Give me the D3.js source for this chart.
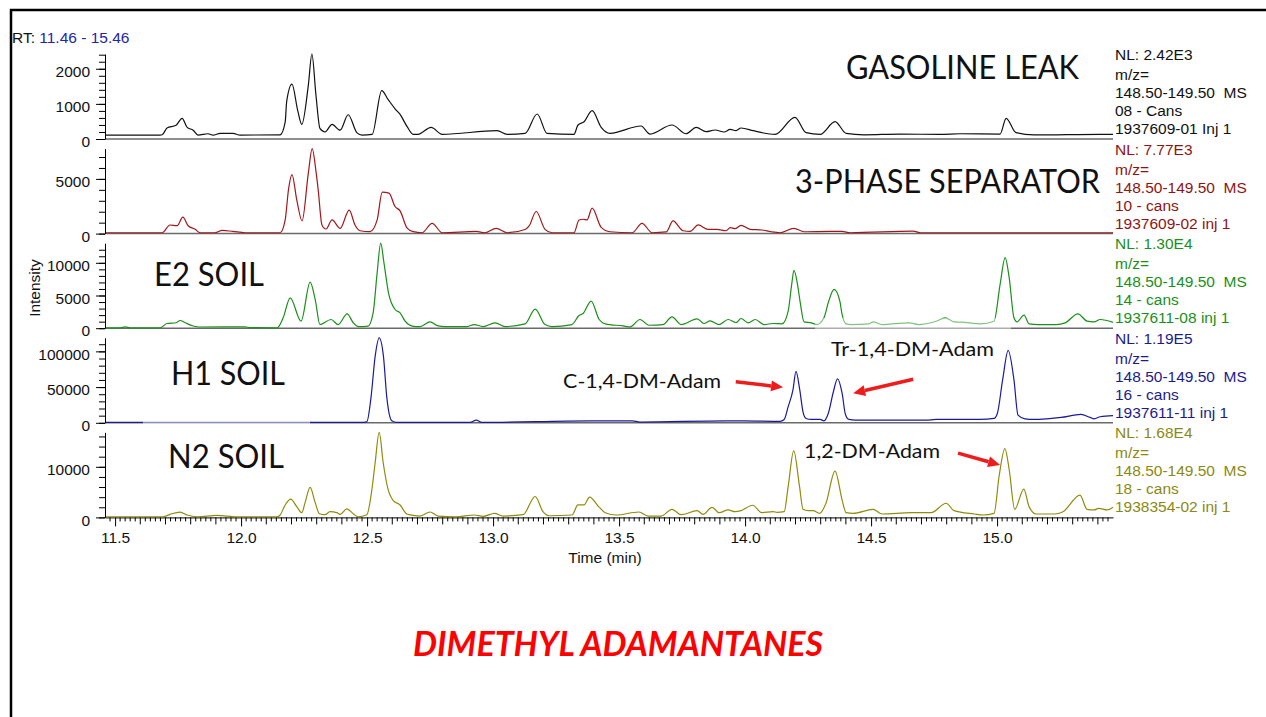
<!DOCTYPE html>
<html>
<head>
<meta charset="utf-8">
<script src="https://cdn.jsdelivr.net/npm/d3@7"></script>
<style>
  html, body { margin: 0; padding: 0; background: #fff; }
  svg { display: block; }
</style>
</head>
<body>
<svg id="chart" width="1266" height="717"></svg>
<script>
// retention time (min), intensity
const gasolineTrace = [[11.464,110],[11.679,110],[11.687,120],[11.706,310],[11.742,390],[11.766,590],[11.786,330],[11.810,250],[11.829,110],[11.869,150],[11.889,110],[11.917,160],[11.968,160],[11.996,110],[12.155,120],[12.175,480],[12.181,1070],[12.202,1560],[12.225,800],[12.241,417],[12.267,1540],[12.281,2420],[12.297,1260],[12.313,300],[12.333,200],[12.361,417],[12.393,250],[12.425,690],[12.460,175],[12.480,110],[12.520,130],[12.558,1380],[12.583,1130],[12.611,860],[12.631,700],[12.659,350],[12.683,133],[12.702,133],[12.754,332],[12.798,133],[13.016,237],[13.056,133],[13.127,160],[13.175,712],[13.214,161],[13.321,133],[13.337,399],[13.361,493],[13.393,807],[13.429,332],[13.464,161],[13.587,370],[13.623,140],[13.710,399],[13.766,150],[13.806,332],[13.845,209],[13.881,256],[13.917,199],[13.941,275],[13.964,237],[13.984,313],[14.032,237],[14.067,180],[14.119,133],[14.198,617],[14.242,180],[14.298,133],[14.357,493],[14.401,160],[14.472,120],[14.615,140],[14.774,130],[14.853,150],[15.012,140],[15.036,588],[15.075,180],[15.147,115],[15.409,133],[15.460,133]]

const separatorTrace = [[11.464,80],[11.687,80],[11.718,785],[11.746,720],[11.769,1500],[11.790,720],[11.818,390],[11.837,80],[11.897,80],[11.925,300],[11.968,200],[12.016,80],[12.155,80],[12.175,1250],[12.188,4000],[12.202,5400],[12.221,3080],[12.242,1160],[12.267,5550],[12.282,7770],[12.298,5550],[12.306,4000],[12.321,790],[12.337,420],[12.361,1250],[12.393,480],[12.429,2150],[12.452,790],[12.472,260],[12.512,180],[12.540,1250],[12.560,3800],[12.587,3700],[12.611,2480],[12.631,2080],[12.659,500],[12.683,180],[12.718,80],[12.758,940],[12.798,80],[12.933,200],[12.968,80],[13.012,480],[13.056,80],[13.127,380],[13.143,700],[13.171,2020],[13.206,390],[13.234,80],[13.321,80],[13.341,1240],[13.357,1310],[13.373,1250],[13.393,2330],[13.429,570],[13.464,170],[13.552,80],[13.591,940],[13.631,80],[13.687,150],[13.714,1160],[13.754,260],[13.782,200],[13.814,790],[13.853,390],[13.889,390],[13.925,260],[13.941,540],[13.960,450],[13.984,760],[14.020,390],[14.067,330],[14.103,170],[14.139,80],[14.194,480],[14.234,170],[14.337,200],[14.385,200],[14.417,80],[14.667,230],[14.695,80],[15.460,80]]

const e2Trace = [[11.464,60],[11.520,60],[11.540,200],[11.560,60],[11.679,60],[11.706,720],[11.742,830],[11.758,1180],[11.778,830],[11.810,330],[11.837,180],[12.016,200],[12.036,80],[12.143,60],[12.167,1600],[12.195,4650],[12.238,1070],[12.274,7060],[12.294,4400],[12.313,560],[12.357,1330],[12.385,560],[12.421,2200],[12.445,830],[12.464,250],[12.504,330],[12.524,2350],[12.540,8490],[12.554,13000],[12.567,10000],[12.585,5400],[12.611,2860],[12.631,2350],[12.651,1070],[12.679,330],[12.710,250],[12.750,970],[12.782,360],[12.810,250],[12.897,250],[12.925,560],[12.960,250],[13.008,820],[13.048,250],[13.127,650],[13.167,2920],[13.206,560],[13.234,250],[13.313,560],[13.341,1950],[13.357,2250],[13.389,4150],[13.421,1330],[13.445,670],[13.516,350],[13.544,200],[13.583,1330],[13.619,450],[13.675,560],[13.710,1740],[13.746,560],[13.810,1430],[13.837,720],[13.861,1130],[13.897,560],[13.933,1330],[13.964,870],[13.984,1480],[14.012,820],[14.040,1330],[14.075,560],[14.111,720],[14.147,670],[14.171,2610],[14.185,6700],[14.194,8860],[14.208,6700],[14.218,4150],[14.234,970],[14.262,820],[14.286,560],[14.313,1590],[14.332,4150],[14.353,5940],[14.376,4150],[14.385,2100],[14.401,670],[14.421,560],[14.492,670],[14.508,970],[14.544,560],[14.651,820],[14.687,560],[14.758,1070],[14.794,1590],[14.829,970],[14.861,920],[14.897,770],[14.933,670],[14.988,1070],[15.012,6700],[15.032,10800],[15.048,7730],[15.067,1590],[15.079,970],[15.107,2000],[15.127,670],[15.163,560],[15.234,560],[15.270,820],[15.321,2200],[15.357,1075],[15.385,970],[15.409,1330],[15.460,900]]

const h1Trace = [[11.464,500],[12.472,500],[12.499,1400],[12.516,36700],[12.532,93000],[12.548,119000],[12.565,93000],[12.578,36700],[12.598,2800],[12.618,500],[12.909,500],[12.933,3760],[12.956,500],[13.385,2800],[13.552,2800],[13.583,1000],[13.925,2800],[13.996,2800],[14.139,2000],[14.155,4700],[14.171,22560],[14.190,46000],[14.202,72000],[14.217,46000],[14.230,15000],[14.242,6100],[14.262,4700],[14.298,4700],[14.313,2800],[14.330,13000],[14.349,41400],[14.367,61600],[14.385,41400],[14.398,12000],[14.412,4700],[14.437,3760],[14.718,3760],[14.758,4700],[14.933,4700],[14.988,6100],[15.001,13000],[15.022,60000],[15.044,101500],[15.067,60000],[15.083,10800],[15.111,5600],[15.147,4700],[15.198,5600],[15.254,7500],[15.333,11750],[15.369,7500],[15.385,5600],[15.409,8460],[15.460,10000]]

const n2Trace = [[11.464,130],[11.691,130],[11.718,600],[11.758,1060],[11.786,470],[11.825,130],[11.905,400],[11.944,270],[11.976,130],[12.143,130],[12.155,470],[12.175,2460],[12.197,3600],[12.221,2130],[12.241,930],[12.254,2930],[12.274,5930],[12.294,2930],[12.311,730],[12.333,530],[12.353,1130],[12.380,930],[12.393,600],[12.420,1670],[12.445,730],[12.464,130],[12.499,530],[12.519,5460],[12.532,10800],[12.548,16800],[12.564,10800],[12.582,5800],[12.604,3330],[12.631,2460],[12.658,660],[12.684,400],[12.710,270],[12.750,1070],[12.782,270],[12.853,130],[12.925,470],[12.960,200],[13.006,800],[13.040,270],[13.119,530],[13.167,4130],[13.198,1130],[13.222,330],[13.313,470],[13.337,2470],[13.361,2470],[13.383,4000],[13.419,2130],[13.445,930],[13.488,470],[13.579,1070],[13.615,270],[13.667,270],[13.710,1600],[13.746,530],[13.810,1330],[13.833,600],[13.869,2000],[13.897,930],[13.933,1470],[13.960,1130],[13.984,1330],[14.030,2400],[14.066,930],[14.111,1130],[14.127,1000],[14.155,1130],[14.171,6130],[14.193,13140],[14.216,6130],[14.230,1600],[14.250,1330],[14.270,1330],[14.296,800],[14.321,2800],[14.357,9140],[14.385,3470],[14.401,930],[14.429,800],[14.508,1600],[14.544,670],[14.659,930],[14.738,930],[14.798,2800],[14.829,1330],[14.909,670],[14.944,470],[14.988,800],[15.008,8130],[15.031,13600],[15.048,9470],[15.070,1600],[15.106,5600],[15.127,2130],[15.155,670],[15.226,670],[15.262,1130],[15.329,4400],[15.357,1600],[15.385,1470],[15.403,1800],[15.437,1470],[15.460,2000]]

const traces = [gasolineTrace, separatorTrace, e2Trace, h1Trace, n2Trace]
const panelTitles = ['GASOLINE LEAK', '3-PHASE SEPARATOR', 'E2 SOIL', 'H1 SOIL', 'N2 SOIL']
const normLevels = [2420, 7770, 13000, 119000, 16800]
const nlLabels = ['NL: 2.42E3', 'NL: 7.77E3', 'NL: 1.30E4', 'NL: 1.19E5', 'NL: 1.68E4']
const massLabel = ['m/z=', '148.50-149.50  MS']
const scanLabels = ['08 - Cans', '10 - cans', '14 - cans', '16 - cans', '18 - cans']
const sampleLabels = ['1937609-01 Inj 1', '1937609-02 inj 1', '1937611-08 inj 1', '1937611-11 inj 1', '1938354-02 inj 1']
const majorTicks = [[0, 1000, 2000], [0, 5000], [0, 5000, 10000], [0, 50000, 100000], [0, 10000]]
const minorSteps = [200, 1000, 1000, 10000, 2000]
const xTickLabels = [11.5, 12.0, 12.5, 13.0, 13.5, 14.0, 14.5, 15.0]
const rtRange = [11.46, 15.46]

// arrows point at peaks, given in (time, intensity) of their panel
const annotations = [
  { label: 'C-1,4-DM-Adam', panel: 3, textT: 13.905, textV: 48700, anchor: 'end', len: 158, tailT: 13.963, tailV: 57500, tipT: 14.151, tipV: 49700 },
  { label: 'Tr-1,4-DM-Adam', panel: 3, textT: 14.341, textV: 93500, anchor: 'start', len: 163, tailT: 14.667, tailV: 60900, tipT: 14.429, tipV: 41300 },
  { label: '1,2-DM-Adam', panel: 4, textT: 14.234, textV: 11740, anchor: 'start', len: 136, tailT: 14.845, tailV: 12700, tipT: 15.012, tipV: 10350 }
]

const traceColors = ['#111111', '#a0181c', '#1a8f1a', '#1b1b98', '#8f8c0c']
const labelColors = ['#111111', '#8e1414', '#1a8f1a', '#1b1b8c', '#8a8a12']
const titleLayout = [
  { x: 846, y: 79, len: 233 },
  { x: 795, y: 193, len: 305 },
  { x: 154, y: 286, len: 110 },
  { x: 171, y: 385, len: 114 },
  { x: 168, y: 468, len: 116 }
]

const SANS = '"Liberation Sans", Arial, sans-serif'
const TITLE_FONT = 'Lato, "Open Sans", sans-serif'
const FS = 15.5
const PANEL_TOP = 54
const PANEL_STEP = 94.6
const PANEL_H = 85

const svg = d3.select('#chart')
svg.append('rect').attr('width', 1266).attr('height', 717).attr('fill', '#fff')

// slide frame
svg.append('path')
  .attr('d', 'M11,717V10H1266')
  .attr('fill', 'none')
  .attr('stroke', '#000')
  .attr('stroke-width', 2.5)

const x = d3.scaleLinear().domain(rtRange).range([105, 1113])

const panels = traces.map((trace, i) => {
  const top = PANEL_TOP + i * PANEL_STEP
  const y = d3.scaleLinear().domain([0, normLevels[i]]).range([top + PANEL_H, top])
  return { trace, top, y, i }
})

for (const p of panels) {
  const g = svg.append('g')
  const bottom = p.top + PANEL_H

  if (p.i < panels.length - 1) {
    g.append('line')
      .attr('x1', 105).attr('x2', 1113)
      .attr('y1', bottom).attr('y2', bottom)
      .attr('stroke', '#6a6a6a')
      .attr('stroke-width', 1.5)
  }

  const minor = d3.range(0, normLevels[p.i], minorSteps[p.i])
  const minorAxis = g.append('g').attr('transform', 'translate(105,0)')
    .call(d3.axisLeft(p.y).tickValues(minor).tickSize(6).tickFormat(''))
  minorAxis.select('.domain').remove()

  const yAxis = g.append('g').attr('transform', 'translate(105,0)')
    .call(d3.axisLeft(p.y).tickValues(majorTicks[p.i]).tickSize(9).tickSizeOuter(0).tickPadding(6).tickFormat(d3.format('d')))
  yAxis.attr('font-family', SANS).attr('font-size', FS)
  yAxis.selectAll('text').attr('dy', '0.5em').attr('fill', '#111')
}

// x axis on the bottom panel
const last = panels[panels.length - 1]
const xBase = last.top + PANEL_H
const xAxis = svg.append('g').attr('transform', `translate(0,${xBase})`)
  .call(d3.axisBottom(x).tickValues(xTickLabels).tickSize(9).tickSizeOuter(0).tickPadding(6).tickFormat(d3.format('.1f')))
xAxis.attr('font-family', SANS).attr('font-size', FS)
xAxis.selectAll('text').attr('fill', '#111')

const minorX = d3.range(574, 773).filter(k => k % 25 !== 0)
svg.append('g').selectAll('line').data(minorX).enter().append('line')
  .attr('x1', k => x(k / 50)).attr('x2', k => x(k / 50))
  .attr('y1', xBase)
  .attr('y2', k => xBase + (k % 5 === 0 ? 7 : 4))
  .attr('stroke', '#000')

svg.append('text')
  .attr('x', 605)
  .attr('y', xBase + 46)
  .attr('text-anchor', 'middle')
  .attr('font-family', SANS).attr('font-size', FS).attr('fill', '#111')
  .text('Time (min)')

svg.append('text')
  .attr('transform', 'translate(40,288) rotate(-90)')
  .attr('text-anchor', 'middle')
  .attr('font-family', SANS).attr('font-size', FS).attr('fill', '#111')
  .text('Intensity')

const rt = svg.append('text')
  .attr('x', 12).attr('y', 43)
  .attr('font-family', SANS).attr('font-size', FS).attr('fill', '#111')
  .style('white-space', 'pre')
rt.append('tspan').text('RT: ')
rt.append('tspan').attr('fill', '#2424a8').text(`${rtRange[0]} - ${rtRange[1]}`)

// traces
for (const p of panels) {
  const line = d3.line()
    .x(d => x(d[0]))
    .y(d => p.y(d[1]))
    .curve(d3.curveMonotoneX)
  svg.append('path')
    .datum(p.trace)
    .attr('d', line)
    .attr('fill', 'none')
    .attr('stroke', traceColors[p.i])
    .attr('stroke-width', 1.2)
    .attr('stroke-linejoin', 'round')
}

// washed-out patches from pasted text boxes
svg.append('rect').attr('x', 143).attr('y', 410).attr('width', 167).attr('height', 16)
  .attr('fill', '#fff').attr('opacity', 0.5)
svg.append('rect').attr('x', 815).attr('y', 318).attr('width', 196).attr('height', 13)
  .attr('fill', '#fff').attr('opacity', 0.45)

// right-hand scan info
for (const p of panels) {
  const lines = [nlLabels[p.i], massLabel[0], massLabel[1], scanLabels[p.i], sampleLabels[p.i]]
  const offsets = [6, 26, 44, 62, 80]
  svg.append('g').selectAll('text').data(lines).enter().append('text')
    .attr('x', 1115)
    .attr('y', (d, k) => p.top + offsets[k])
    .attr('font-family', SANS).attr('font-size', FS)
    .attr('fill', labelColors[p.i])
    .style('white-space', 'pre')
    .text(d => d)
}

// sample titles
svg.append('g').selectAll('text').data(panelTitles).enter().append('text')
  .attr('x', (d, i) => titleLayout[i].x)
  .attr('y', (d, i) => titleLayout[i].y)
  .attr('textLength', (d, i) => titleLayout[i].len)
  .attr('lengthAdjust', 'spacingAndGlyphs')
  .attr('font-family', TITLE_FONT).attr('font-size', 32)
  .attr('fill', '#111')
  .text(d => d)

// peak annotations
const RED = '#ee1c1c'
for (const a of annotations) {
  const y = panels[a.panel].y
  svg.append('text')
    .attr('x', x(a.textT)).attr('y', y(a.textV))
    .attr('text-anchor', a.anchor)
    .attr('textLength', a.len)
    .attr('lengthAdjust', 'spacingAndGlyphs')
    .attr('font-family', TITLE_FONT).attr('font-size', 19)
    .attr('fill', '#111')
    .text(a.label)

  const x0 = x(a.tailT), y0 = y(a.tailV)
  const x1 = x(a.tipT), y1 = y(a.tipV)
  const dx = x1 - x0, dy = y1 - y0
  const dist = Math.sqrt(dx * dx + dy * dy) || 1
  const ux = dx / dist, uy = dy / dist
  const head = 12, half = 5.5
  const bx = x1 - ux * head, by = y1 - uy * head
  svg.append('line')
    .attr('x1', x0).attr('y1', y0).attr('x2', bx).attr('y2', by)
    .attr('stroke', RED).attr('stroke-width', 3.5)
  svg.append('path')
    .attr('d', `M${x1},${y1}L${bx - uy * half},${by + ux * half}L${bx + uy * half},${by - ux * half}Z`)
    .attr('fill', RED)
}

svg.append('text')
  .attr('x', 413).attr('y', 656)
  .attr('textLength', 410)
  .attr('lengthAdjust', 'spacingAndGlyphs')
  .attr('font-family', TITLE_FONT).attr('font-size', 34)
  .attr('font-weight', 'bold').attr('font-style', 'italic')
  .attr('fill', '#ff0000')
  .text('DIMETHYL ADAMANTANES')
</script>
</body>
</html>
